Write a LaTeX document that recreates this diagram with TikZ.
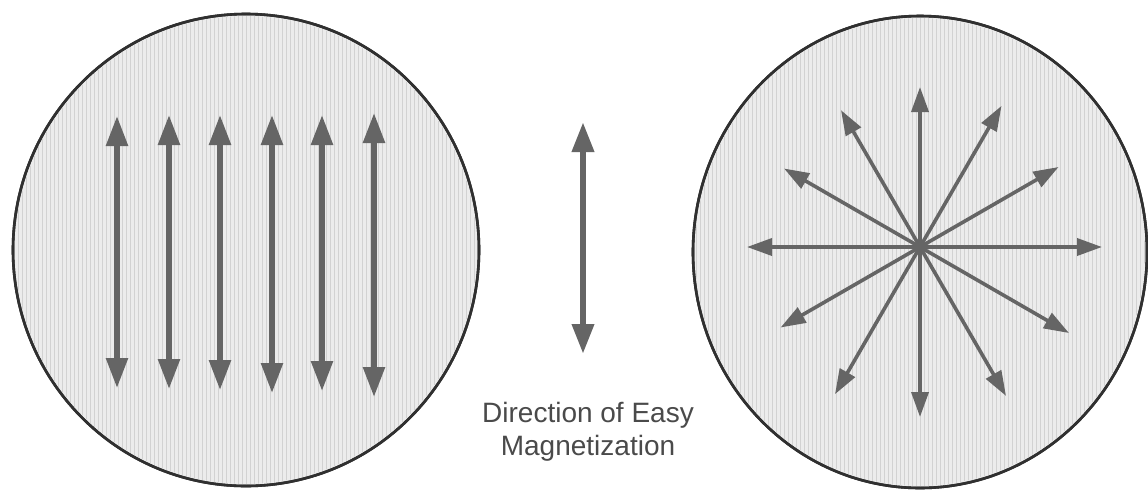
\documentclass[tikz,border=0pt]{standalone}
\usepackage{fontspec}
\setmainfont{Liberation Sans}
\usetikzlibrary{arrows.meta,calc}
\definecolor{arrowgray}{HTML}{656565}
\definecolor{rimgray}{HTML}{303030}
\definecolor{fillgray}{HTML}{ECECEC}
\definecolor{hatchgray}{HTML}{D2D2D2}
\definecolor{textgray}{HTML}{4A4A4A}
\tikzset{
  disc/.style={draw=rimgray,line width=2.6pt,fill=fillgray},
  hatch/.style={draw=hatchgray,line width=0.9pt},
  thickarrow/.style={draw=arrowgray,line width=5.5pt,{Triangle[length=30pt,width=21pt]}-{Triangle[length=30pt,width=21pt]}},
  midarrow/.style={draw=arrowgray,line width=6.5pt,{Triangle[length=30pt,width=21pt]}-{Triangle[length=30pt,width=21pt]}},
  ray/.style={draw=arrowgray,line width=3.6pt,-{Triangle[length=25pt,width=17pt]}},
  label/.style={text=textgray,font=\fontsize{28}{33}\selectfont,align=center,inner sep=0pt}
}
\begin{document}
\begin{tikzpicture}[x=1pt,y=-1pt]
\useasboundingbox (0,0) rectangle (1148,491);
\fill[white] (0,0) rectangle (1148,491);
% left disc
\coordinate (L) at (246,250);
\path[disc] (L) ellipse [x radius=233,y radius=236];
\begin{scope}
  \clip (L) ellipse [x radius=231,y radius=234];
  \foreach \i in {-232,-228,...,232} \draw[hatch] ([xshift=\i]L) ++(0,-240) -- ++(0,480);
\end{scope}
\draw[rimgray,line width=2.6pt] (L) ellipse [x radius=233,y radius=236];
% right disc
\coordinate (R) at (920,252);
\path[disc] (R) ellipse [x radius=227,y radius=236];
\begin{scope}
  \clip (R) ellipse [x radius=225,y radius=234];
  \foreach \i in {-228,-224,...,228} \draw[hatch] ([xshift=\i]R) ++(0,-240) -- ++(0,480);
\end{scope}
\draw[rimgray,line width=2.6pt] (R) ellipse [x radius=227,y radius=236];
% parallel arrows
\foreach \n/\x/\t/\b in {1/117/116/388,2/169/115/389,3/220/115/390,4/272/115/393,5/322/115/391,6/374/113/397}{
  \coordinate (t\n) at (\x,\t);
  \coordinate (b\n) at (\x,\b);
  \draw[thickarrow] (b\n) -- (t\n);
}
% middle arrow
\coordinate (mt) at (583,122);
\coordinate (mb) at (583,354);
\draw[midarrow] (mb) -- (mt);
% star
\coordinate (S) at (920,247);
\foreach \a/\l in {0/182,30/160,60/163,90/160,120/158,150/157,180/173,210/161,240/170,270/170,300/172,330/172}{
  \coordinate (s\a) at ($(S)+(-\a:\l)$);
}
\foreach \a in {0,30,60,90,120,150,180,210,240,270,300,330}{
  \draw[ray] (S) -- (s\a);
}
\fill[arrowgray] (S) circle (5);
% label
\node[label] (lab) at (588,432) {Direction of Easy\\Magnetization};
\end{tikzpicture}
\end{document}
